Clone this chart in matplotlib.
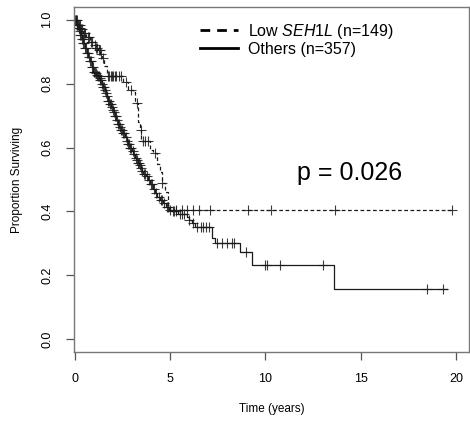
import matplotlib
matplotlib.use('Agg')
import matplotlib.pyplot as plt
from matplotlib.lines import Line2D
import numpy as np

plt.rcParams['font.family'] = ['Liberation Sans', 'DejaVu Sans']
plt.rcParams['mathtext.fontset'] = 'custom'
plt.rcParams['mathtext.it'] = 'Liberation Sans:italic'
plt.rcParams['mathtext.rm'] = 'Liberation Sans'

# Others (n=357): step knots
others_t = [0, 0.08, 0.17, 0.24, 0.3, 0.37, 0.45, 0.54, 0.62, 0.7, 0.8, 0.89, 0.98, 1.06, 1.14,
            1.2, 1.27, 1.33, 1.42, 1.5, 1.56, 1.62, 1.68, 1.75, 1.85, 1.92, 1.98, 2.04, 2.1, 2.18,
            2.25, 2.32, 2.4, 2.52, 2.65, 2.72, 2.8, 2.9, 3.0, 3.08, 3.16, 3.23, 3.3, 3.38, 3.45,
            3.52, 3.6, 3.72, 3.85, 3.97, 4.1, 4.2, 4.3, 4.48, 4.64, 4.8, 4.95, 5.08, 5.4, 5.87,
            6.0, 6.13, 6.3, 7.18, 7.36, 8.67, 9.28, 13.6]
others_s = [1.0, 0.985, 0.975, 0.965, 0.953, 0.94, 0.928, 0.912, 0.896, 0.882, 0.87,
            0.853, 0.838, 0.833, 0.828, 0.823, 0.818, 0.81, 0.80, 0.79, 0.78, 0.77, 0.76, 0.745,
            0.737, 0.728, 0.719, 0.71, 0.698, 0.685, 0.675, 0.665, 0.655, 0.645, 0.632, 0.62,
            0.61, 0.60, 0.59, 0.58, 0.567, 0.56, 0.552, 0.545, 0.536, 0.527, 0.518, 0.51, 0.50,
            0.485, 0.47, 0.458, 0.446, 0.435, 0.425, 0.415, 0.405, 0.40, 0.392, 0.383, 0.373,
            0.363, 0.352, 0.316, 0.30, 0.274, 0.232, 0.156]
others_end = 19.55
others_cens = [0.03, 0.06, 0.1, 0.13, 0.15, 0.2, 0.22, 0.27, 0.3, 0.35, 0.4, 0.43, 0.45, 0.5,
               0.55, 0.6, 0.65, 0.68, 0.75, 0.8, 0.85, 0.9, 0.95, 1.0, 1.05, 1.1, 1.15, 1.2, 1.25,
               1.3, 1.35, 1.4, 1.45, 1.5, 1.55, 1.6, 1.65, 1.7, 1.75, 1.8, 1.85, 1.9, 1.95, 2.0,
               2.05, 2.1, 2.15, 2.2, 2.25, 2.3, 2.35, 2.45, 2.5, 2.55, 2.6, 2.7, 2.75, 2.8, 2.85,
               2.9, 2.95, 3.05, 3.1, 3.2, 3.25, 3.3, 3.35, 3.4, 3.5, 3.55, 3.65, 3.7, 3.8, 3.9,
               4.0, 4.05, 4.15, 4.25, 4.4, 4.5, 4.6, 4.7, 4.85, 4.9, 5.0, 5.15, 5.2, 5.3, 5.5, 5.6,
               5.75, 6.0, 6.2, 6.4, 6.6, 6.75, 6.9, 7.05, 7.45, 7.7, 7.97, 8.23, 8.35, 9.0, 9.98,
               10.07, 10.77, 13.04, 18.46, 19.33]

# Low SEH1L (n=149)
low_t = [0, 0.15, 0.3, 0.45, 0.6, 0.8, 1.0, 1.1, 1.2, 1.32, 1.42, 1.55, 1.68, 2.55, 2.8, 3.07,
         3.17, 3.33, 3.4, 3.5, 3.95, 4.1, 4.3, 4.47, 4.6, 4.74, 4.9, 5.0]
low_s = [1.0, 0.985, 0.97, 0.958, 0.945, 0.932, 0.92, 0.912, 0.905, 0.893, 0.88, 0.855, 0.825,
         0.805, 0.78, 0.775, 0.74, 0.68, 0.655, 0.62, 0.593, 0.583, 0.55, 0.524, 0.49, 0.462,
         0.42, 0.405]
low_end = 19.8
low_cens = [0.05, 0.1, 0.2, 0.25, 0.35, 0.4, 0.5, 0.55, 0.7, 0.75, 0.85, 0.9, 1.05, 1.1, 1.15,
            1.25, 1.3, 1.38, 1.48, 1.75, 1.82, 1.88, 1.95, 2.02, 2.1, 2.15, 2.3, 2.45, 2.7, 2.95,
            3.25, 3.45, 3.6, 3.7, 3.85, 4.2, 4.6, 5.3, 5.6, 5.9, 6.2, 6.5, 7.1, 9.1, 10.3,
            13.65, 19.8]

p_text = "p = 0.026"
labels = ["Low $\\it{SEH1L}$ (n=149)", "Others (n=357)"]

col = '#1a1a1a'


def step_at(t, s, q):
    idx = np.searchsorted(np.asarray(t), np.asarray(q), side='right') - 1
    return np.asarray(s)[idx]


fig = plt.figure(figsize=(4.7, 4.25), dpi=100)
ax = fig.add_axes([74 / 470, 1 - 352 / 425, 395 / 470, 345 / 425])

for t, s, end, cens, ls in [(others_t, others_s, others_end, others_cens, '-'),
                            (low_t, low_s, low_end, low_cens, (0, (3, 2)))]:
    tt = list(t) + [end]
    ss = list(s) + [s[-1]]
    ax.step(tt, ss, where='post', color=col, lw=0.9, ls=ls)
    ax.plot(cens, step_at(t, s, cens), ls='none', marker='+', ms=7, mew=0.8, color=col, alpha=0.85)

ax.text(14.4, 0.52, p_text, fontsize=18, ha='center', va='center', color='black')

handles = [Line2D([], [], color='black', lw=2, ls=(0, (3.5, 2.5))),
           Line2D([], [], color='black', lw=2, ls='-')]
ax.legend(handles, labels, loc='upper left', bbox_to_anchor=(200 / 470, 1 - 22 / 425),
          bbox_transform=fig.transFigure, frameon=False, fontsize=11.5,
          handlelength=2.4, handletextpad=0.6, labelspacing=0.05, borderaxespad=0, borderpad=0)

ax.set_xlim(-0.04, 20.68)
ax.set_ylim(-0.04, 1.04)
ax.set_xticks([0, 5, 10, 15, 20])
ax.set_yticks([0, 0.2, 0.4, 0.6, 0.8, 1.0])
ax.set_yticklabels(['0.0', '0.2', '0.4', '0.6', '0.8', '1.0'], rotation=90, va='center')
ax.tick_params(length=6, width=0.9, color='#555555', labelsize=9, pad=9)
for sp in ax.spines.values():
    sp.set_color('#777777')
    sp.set_linewidth(1)

ax.set_xlabel("Time (years)", fontsize=8.5, labelpad=13)
ax.set_ylabel("Proportion Surviving", fontsize=8.5, labelpad=13)

fig.savefig('out.png', dpi=100)
